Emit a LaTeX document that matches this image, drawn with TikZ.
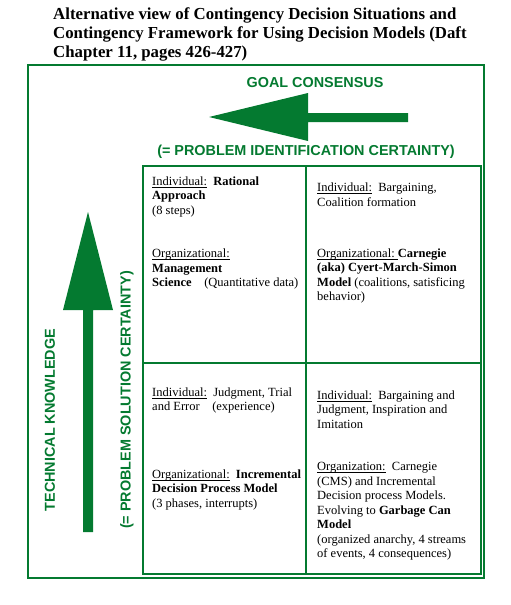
\documentclass[tikz,border=0pt]{standalone}
\usepackage{fontspec}
\setmainfont{Liberation Serif}
\newfontfamily\headfont{Liberation Sans}
\definecolor{dgreen}{RGB}{4,122,48}
\newcommand{\undertext}[1]{\underline{\smash{#1}}}
\tikzset{
	axislabel/.style={text=dgreen, inner sep=0pt, font=\headfont\bfseries\fontsize{14.4}{17}\selectfont},
	cell/.style={anchor=north west, align=left, inner sep=0pt, font=\fontsize{12.5}{14.5}\selectfont},
}

\begin{document}
\begin{tikzpicture}[x=1pt,y=-1pt]
		\useasboundingbox (0,0) rectangle (511,605);
		\node[anchor=north west, align=left, inner sep=0pt, font=\bfseries\fontsize{16.8}{19}\selectfont] (title) at (53,7.5)
			{Alternative view of Contingency Decision Situations and\\ Contingency Framework for Using Decision Models (Daft\\ Chapter 11, pages 426-427)};
		
		\draw[dgreen, line width=1.5pt] (28,65) rectangle (484,578);
		\draw[dgreen, line width=2pt] (143,166) rectangle (481,574);
		\draw[dgreen, line width=1.5pt] (306,166) -- (306,574);
		\draw[dgreen, line width=1.5pt] (143,363) -- (481,363);
		
		% goal consensus arrow (right to left)
		\fill[dgreen] (408,113) -- (308,113) -- (308,93) -- (209,117) -- (308,141) -- (308,122) -- (408,122) -- cycle;
		\node[axislabel] (goal) at (315,83) {GOAL CONSENSUS};
		\node[axislabel] (identification) at (306,152) {(= PROBLEM IDENTIFICATION CERTAINTY)};
		
		% technical knowledge arrow (bottom to top)
		\fill[dgreen] (83,532) -- (83,310) -- (63,310) -- (88,212) -- (113,310) -- (93,310) -- (93,532) -- cycle;
		\node[axislabel, rotate=90] (technical) at (50,420) {TECHNICAL KNOWLEDGE};
		\node[axislabel, rotate=90] (solution) at (127,400) {(= PROBLEM SOLUTION CERTAINTY)};
		
		\node[cell] (rational) at (152,176.5) {\undertext{Individual:}\ \ \textbf{Rational}\\ \textbf{Approach}\\ (8 steps)};
		\node[cell] (management) at (152,257.5) {\undertext{Organizational:}\\ \textbf{Management}\\ \textbf{Science}\quad(Quantitative data)};
		\node[cell] (bargaining) at (317,183.5) {\undertext{Individual:}\ \ Bargaining,\\ Coalition formation};
		\node[cell] (carnegie) at (317,248.5) {\undertext{Organizational:\ }\textbf{Carnegie}\\ \textbf{(aka) Cyert-March-Simon}\\ \textbf{Model} (coalitions, satisficing\\ behavior)};
		\node[cell] (judgment) at (152,387.5) {\undertext{Individual:}\ \ Judgment, Trial\\ and Error\quad(experience)};
		\node[cell] (incremental) at (152,469.5) {\undertext{Organizational:}\ \ \textbf{Incremental}\\ \textbf{Decision Process Model}\\ (3 phases, interrupts)};
		\node[cell] (inspiration) at (317,390.5) {\undertext{Individual:}\ \ Bargaining and\\ Judgment, Inspiration and\\ Imitation};
		\node[cell] (garbage) at (317,462.5) {\undertext{Organization:}\ \ Carnegie\\ (CMS) and Incremental\\ Decision process Models.\\ Evolving to \textbf{Garbage Can}\\ \textbf{Model}\\ (organized anarchy, 4 streams\\ of events, 4 consequences)};
	\end{tikzpicture}
\end{document}
